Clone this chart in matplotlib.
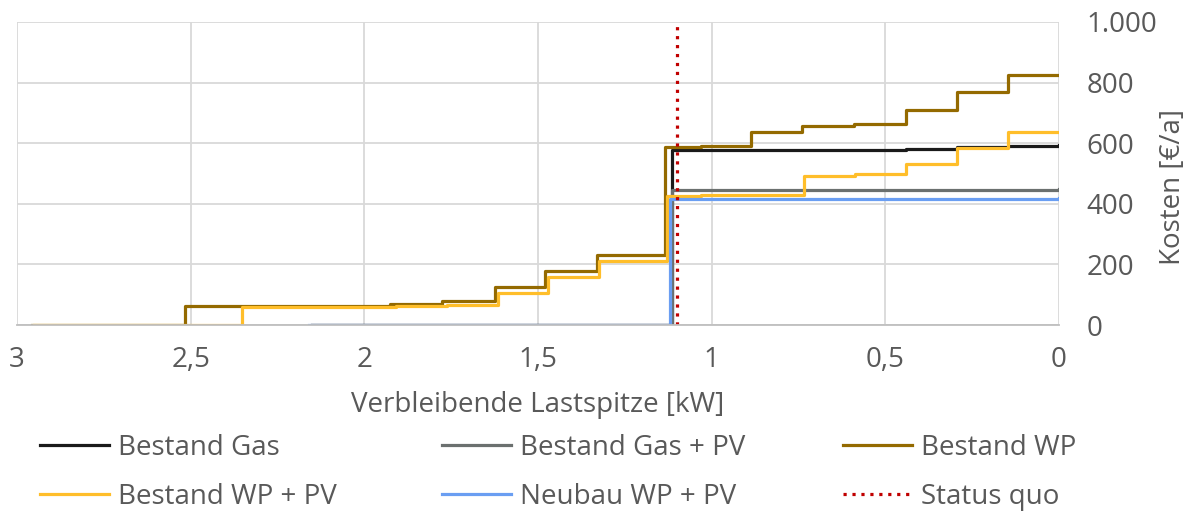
import matplotlib.pyplot as plt

plt.rcParams['font.family'] = ['Open Sans', 'DejaVu Sans']

# steps: value holds from kW[i] down to kW[i+1]
gas_kw = [2.15, 1.113, 0.59, 0.44, 0.295, 0.147, 0.0]
gas_val = [0, 578, 579, 582, 586, 590, 595]

gas_pv_kw = [2.15, 1.113, 0.6, 0.0]
gas_pv_val = [0, 446, 447, 450]

wp_kw = [2.957, 2.516, 1.925, 1.775, 1.625, 1.479, 1.330, 1.133, 1.03, 0.886,
         0.739, 0.591, 0.441, 0.295, 0.147, 0.0]
wp_val = [0, 63, 68, 78, 124, 177, 230, 586, 590, 637, 657, 665, 711, 768, 826, 826]

wp_pv_kw = [2.95, 2.352, 2.058, 1.909, 1.762, 1.614, 1.47, 1.323, 1.13, 1.03,
            0.735, 0.588, 0.441, 0.295, 0.147, 0.0]
wp_pv_val = [0, 58, 61, 63, 67, 107, 160, 211, 426, 428, 492, 499, 532, 585, 638, 638]

neubau_kw = [2.158, 1.121, 0.6, 0.0]
neubau_val = [0, 416, 417, 418]

status_quo = 1.10

xticks = [3, 2.5, 2, 1.5, 1, 0.5, 0]
xlabels = ['3', '2,5', '2', '1,5', '1', '0,5', '0']
yticks = [0, 200, 400, 600, 800, 1000]
ylabels = ['0', '200', '400', '600', '800', '1.000']

txt = '#595959'
fs = 20
W, H = 1192, 515
fig = plt.figure(figsize=(W / 100, H / 100), dpi=100)
ax = fig.add_axes([17 / W, 1 - 325 / H, 1042 / W, 303 / H])

lw = 2.3
h_gas, = ax.plot(gas_kw, gas_val, drawstyle='steps-post', color='#1a1a1a', lw=lw, label='Bestand Gas')
h_gaspv, = ax.plot(gas_pv_kw, gas_pv_val, drawstyle='steps-post', color='#6b706f', lw=lw, label='Bestand Gas + PV')
h_wp, = ax.plot(wp_kw, wp_val, drawstyle='steps-post', color='#946a00', lw=lw, label='Bestand WP')
h_wppv, = ax.plot(wp_pv_kw, wp_pv_val, drawstyle='steps-post', color='#ffbe2a', lw=lw, label='Bestand WP + PV')
h_neu, = ax.plot(neubau_kw, neubau_val, drawstyle='steps-post', color='#6a9ef2', lw=lw, label='Neubau WP + PV')
h_sq, = ax.plot([status_quo, status_quo], [0, 1000], color='#c00000', lw=2.3, ls=(0, (1, 1.8)),
                label='Status quo')

ax.set_xlim(3, 0)
ax.set_ylim(0, 1000)
ax.set_xticks(xticks)
ax.set_xticklabels(xlabels)
ax.set_yticks(yticks)
ax.set_yticklabels(ylabels)
ax.yaxis.tick_right()
ax.tick_params(length=0, labelsize=fs, colors=txt)
ax.tick_params(axis='x', pad=15)
ax.tick_params(axis='y', pad=20)
ax.grid(True, color='#d9d9d9', lw=1.3)
ax.set_axisbelow(True)
for s in ['top', 'left', 'right']:
    ax.spines[s].set_visible(False)
ax.spines['bottom'].set_color('#bfbfbf')
ax.spines['bottom'].set_linewidth(1.3)

ax.set_xlabel('Verbleibende Lastspitze [kW]', fontsize=fs, color=txt, labelpad=12)
ax.set_ylabel('Kosten [€/a]', fontsize=fs, color=txt)
ax.yaxis.set_label_position('right')
ax.yaxis.set_label_coords((1159 - 17) / 1042, (325 - 187) / 303)

# Excel-like legend: three equal columns, filled row by row
columns = [[h_gas, h_wppv], [h_gaspv, h_neu], [h_wp, h_sq]]
col_x = [40, 442, 843]
for hs, x in zip(columns, col_x):
    leg = fig.legend(handles=hs, loc='upper left', bbox_to_anchor=(x / W, 1 - 434 / H),
                     frameon=False, fontsize=fs, labelcolor=txt, handlelength=2.5,
                     handletextpad=0.3, labelspacing=0.75, borderpad=0, borderaxespad=0)

fig.savefig('out.png', dpi=100)
